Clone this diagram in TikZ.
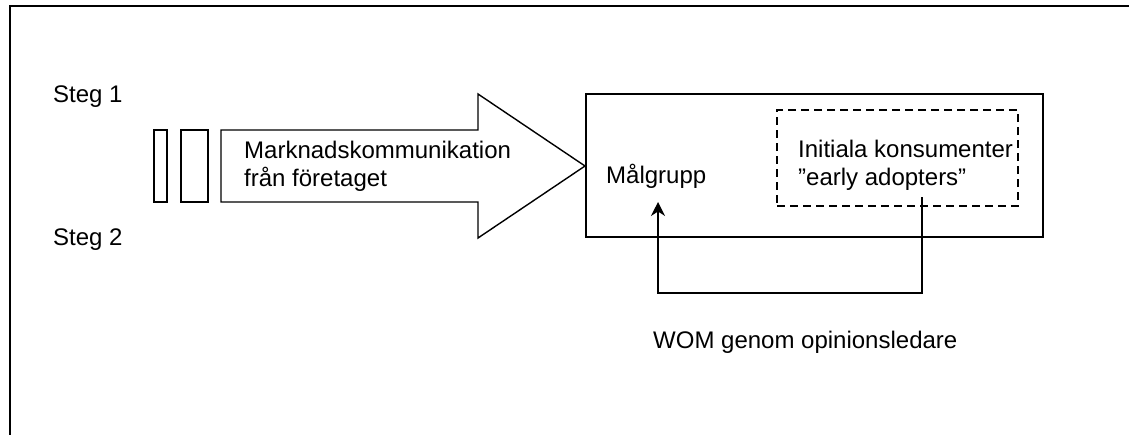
\documentclass[tikz,border=0pt]{standalone}
\usepackage{fontspec}
\setmainfont{Liberation Sans}
\usetikzlibrary{arrows.meta}
\begin{document}
\begin{tikzpicture}[x=1pt,y=-1pt,
  lbl/.style={font=\fontsize{24}{28}\selectfont, inner sep=0pt, anchor=west, align=left},
  boxline/.style={draw, line width=1.6pt, inner sep=0pt},
  thinbox/.style={draw, line width=1.4pt, inner sep=0pt}]
\useasboundingbox (0,0) rectangle (1129,434);
\fill[white] (0,0) rectangle (1129,434);
% outer frame (cut off at right and bottom)
\draw[line width=2pt] (10,440) -- (10,6) -- (1135,6);
% labels
\node[lbl] (steg1) at (53,97) {Steg 1};
\node[lbl] (steg2) at (53,240) {Steg 2};
% small bars
\node[thinbox, minimum width=13pt, minimum height=72pt] (bar1) at (160.5,166) {};
\node[thinbox, minimum width=27pt, minimum height=72pt] (bar2) at (194.5,166) {};
% big arrow
\draw[line width=1.4pt, line join=miter] (221,130) -- (478,130) -- (478,94) -- (585,166) -- (478,238) -- (478,202) -- (221,202) -- cycle;
\node[lbl] (mk) at (244,166) {Marknadskommunikation\\från företaget};
% target box
\node[boxline, minimum width=457pt, minimum height=143pt] (mal) at (814.5,165.5) {};
\node[lbl] (malg) at (606,176) {Målgrupp};
% dashed box
\node[draw, line width=1.4pt, dash pattern=on 8pt off 5pt, inner sep=0pt, minimum width=241pt, minimum height=96pt] (early) at (897.5,158) {};
\node[lbl] (init) at (798,165) {Initiala konsumenter\\”early adopters”};
% feedback connector
\coordinate (fs) at (922,197);
\coordinate (ft) at (658,202);
\draw[line width=1.6pt, -{Stealth[length=14pt, width=14pt]}] (fs) -- (922,293) -| (ft);
\node[lbl] (wom) at (653,342) {WOM genom opinionsledare};
\end{tikzpicture}
\end{document}
